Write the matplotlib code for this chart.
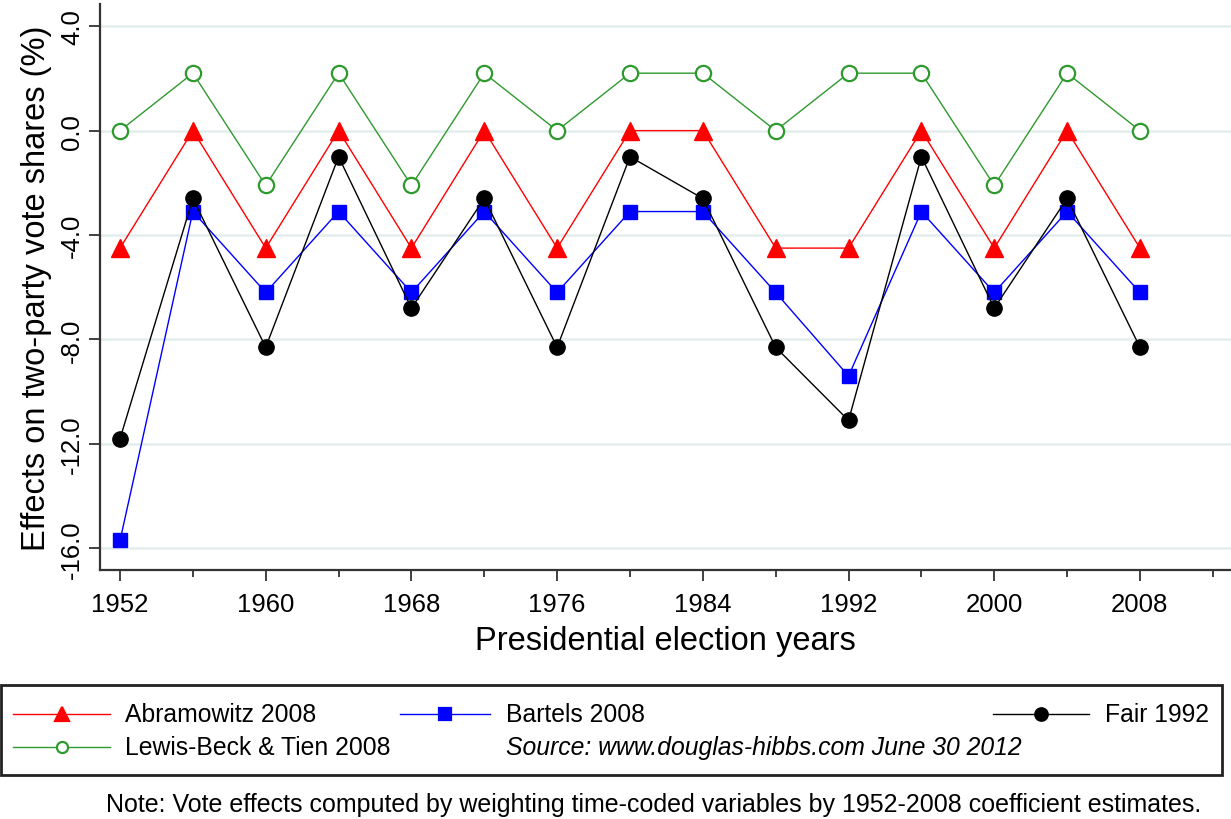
import numpy as np
import matplotlib
matplotlib.use("Agg")
import matplotlib.pyplot as plt
from matplotlib.lines import Line2D
from matplotlib.patches import Rectangle
from matplotlib.ticker import MultipleLocator, FormatStrFormatter

plt.rcParams['font.family'] = ['Liberation Sans', 'DejaVu Sans']

# data
years = [1952, 1956, 1960, 1964, 1968, 1972, 1976, 1980, 1984, 1988, 1992, 1996, 2000, 2004, 2008]
abramowitz = [-4.5, 0.0, -4.5, 0.0, -4.5, 0.0, -4.5, 0.0, 0.0, -4.5, -4.5, 0.0, -4.5, 0.0, -4.5]
bartels = [-15.7, -3.1, -6.2, -3.1, -6.2, -3.1, -6.2, -3.1, -3.1, -6.2, -9.4, -3.1, -6.2, -3.1, -6.2]
fair = [-11.8, -2.6, -8.3, -1.0, -6.8, -2.6, -8.3, -1.0, -2.6, -8.3, -11.1, -1.0, -6.8, -2.6, -8.3]
lewis_beck = [0.0, 2.2, -2.1, 2.2, -2.1, 2.2, 0.0, 2.2, 2.2, 0.0, 2.2, 2.2, -2.1, 2.2, 0.0]

red = '#ff0000'
blue = '#0000ff'
green = '#2e9a2e'

fig = plt.figure(figsize=(12.31, 8.2), dpi=100)
ax = fig.add_axes([100 / 1231, 1 - 571 / 820, 1 - 100 / 1231, (571 - 5) / 820])

ax.plot(years, abramowitz, color=red, lw=1, marker='^', ms=13, mec=red, mfc=red)
ax.plot(years, bartels, color=blue, lw=1, marker='s', ms=10.5, mec=blue, mfc=blue)
ax.plot(years, fair, color='black', lw=1, marker='o', ms=11, mec='black', mfc='black')
ax.plot(years, lewis_beck, color=green, lw=1, marker='o', ms=11, mec=green, mfc='white', mew=1.6)

ax.set_xlim(1950.9, 2013.0)
ax.set_ylim(-16.83, 4.85)
ax.xaxis.set_major_locator(MultipleLocator(8))
ax.xaxis.set_minor_locator(MultipleLocator(4))
ax.yaxis.set_major_locator(MultipleLocator(4))
ax.yaxis.set_major_formatter(FormatStrFormatter('%.1f'))
ax.grid(axis='y', color='#e3eded', lw=1.8, zorder=0)
ax.set_axisbelow(True)
for s in ['top', 'right']:
    ax.spines[s].set_visible(False)
ax.spines['left'].set_color('#333333')
ax.spines['bottom'].set_color('#333333')
ax.spines['left'].set_linewidth(1.6)
ax.spines['bottom'].set_linewidth(1.6)
ax.tick_params(axis='both', which='major', length=8, width=1.3, color='#333333', labelsize=18.5)
ax.tick_params(axis='x', which='minor', length=5, width=1.3, color='#333333')
ax.tick_params(axis='x', pad=8)
for lab in ax.get_yticklabels():
    lab.set_rotation(90)
    lab.set_va('center')
ax.set_xlabel('Presidential election years', fontsize=23.5, labelpad=6)
ax.set_ylabel('Effects on two-party vote shares (%)', fontsize=23.5, labelpad=6)

# legend box, placed in pixel-like figure coords
W, H = 1231.0, 820.0
def fx(x):
    return x / W
def fy(y):
    return 1 - y / H

fig.patches.append(Rectangle((fx(1), fy(776)), fx(1222) - fx(1), fy(686) - fy(776),
                             transform=fig.transFigure, fill=False, ec='#222222', lw=2))

keys = [
    (13, 110, 715, red, '^', 10, red, 'Abramowitz 2008', 125),
    (400, 490, 715, blue, 's', 9, blue, 'Bartels 2008', 506),
    (993, 1089, 715, 'black', 'o', 9, 'black', 'Fair 1992', 1105),
    (13, 110, 748, green, 'o', 8, 'white', 'Lewis-Beck & Tien 2008', 125),
]
for x0, x1, y, c, m, ms, fc, label, tx in keys:
    fig.add_artist(Line2D([fx(x0), fx(x1)], [fy(y), fy(y)], transform=fig.transFigure, color=c, lw=1))
    fig.add_artist(Line2D([fx((x0 + x1) / 2)], [fy(y)], transform=fig.transFigure, color=c,
                          marker=m, ms=ms, mec=c, mfc=fc, mew=1.6))
    fig.text(fx(tx), fy(y), label, fontsize=17.8, va='center', ha='left')

fig.text(fx(506), fy(748), 'Source: www.douglas-hibbs.com June 30 2012', fontsize=17.8,
         va='center', ha='left', style='italic')
fig.text(fx(1201), fy(805), 'Note: Vote effects computed by weighting time-coded variables by 1952-2008 coefficient estimates.',
         fontsize=18, va='center', ha='right')

fig.savefig('out.png', dpi=100)
